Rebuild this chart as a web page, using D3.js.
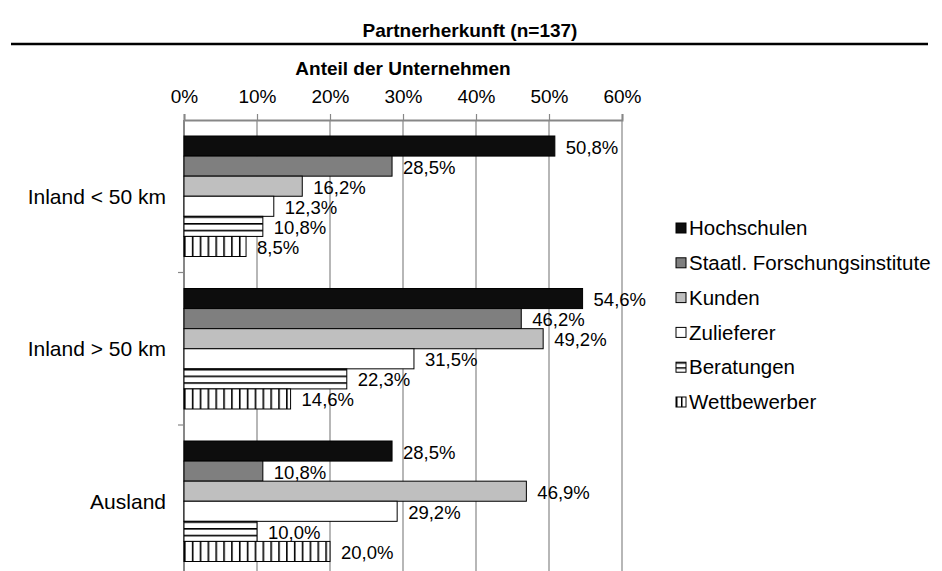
<!DOCTYPE html>
<html>
<head>
<meta charset="utf-8">
<script src="https://cdn.jsdelivr.net/npm/d3@7"></script>
<style>
	body { margin: 0; background: #fff; }
	svg { display: block; font-family: 'Liberation Sans', Arial, sans-serif; }
</style>
</head>
<body>
<svg width="942" height="571"></svg>
<script>
(function(window) {

	// Partnerherkunft, Anteil der Unternehmen (n=137)
	var categories = ['Inland < 50 km', 'Inland > 50 km', 'Ausland'];
	var seriesNames = ['Hochschulen', 'Staatl. Forschungsinstitute', 'Kunden', 'Zulieferer', 'Beratungen', 'Wettbewerber'];
	var hochschulen = [0.508, 0.546, 0.285];
	var forschung = [0.285, 0.462, 0.108];
	var kunden = [0.162, 0.492, 0.469];
	var zulieferer = [0.123, 0.315, 0.292];
	var beratungen = [0.108, 0.223, 0.100];
	var wettbewerber = [0.085, 0.146, 0.200];
	var xTicks = [0, 0.1, 0.2, 0.3, 0.4, 0.5, 0.6];

	var seriesValues = [hochschulen, forschung, kunden, zulieferer, beratungen, wettbewerber];
	var fills = ['#0d0d0d', '#7f7f7f', '#bfbfbf', '#ffffff', 'url(#hstripe)', 'url(#vstripe)'];
	var keyFills = ['#0d0d0d', '#7f7f7f', '#bfbfbf', '#ffffff', 'url(#hstripe-key)', 'url(#vstripe-key)'];

	var svg = d3.select('svg');
	var gridColor = '#878787';

	var x = d3.scaleLinear().domain([0, 0.6]).range([184, 622]);
	var y0 = d3.scaleBand().domain(categories).range([120, 577.5]);
	var y1 = d3.scaleBand().domain(seriesNames).range([16, y0.bandwidth() - 16]);

	var fmt = function(v) { return d3.format('.1f')(v * 100).replace('.', ',') + '%'; };

	// patterns for the striped series
	var defs = svg.append('defs');
	function stripes(id, units, w, h, lineW, lineH, px) {
		var p = defs.append('pattern')
			.attr('id', id)
			.attr('patternUnits', units)
			.attr('width', w)
			.attr('height', h);
		if (px != null) p.attr('x', px);
		p.append('rect').attr('width', 2000).attr('height', 2000).attr('fill', '#fff');
		p.append('rect').attr('width', lineW).attr('height', lineH).attr('fill', '#000');
	}
	stripes('hstripe', 'objectBoundingBox', 1, 1 / 3, 2000, 1.6);
	stripes('vstripe', 'userSpaceOnUse', 7.85, 600, 1.6, 600, x(0));
	stripes('hstripe-key', 'objectBoundingBox', 1, 1 / 2, 2000, 1.5);
	stripes('vstripe-key', 'objectBoundingBox', 1 / 2, 1, 1.5, 2000);

	// title + rule
	svg.append('text')
		.attr('x', 470)
		.attr('y', 37)
		.attr('text-anchor', 'middle')
		.attr('font-weight', 'bold')
		.attr('font-size', 19)
		.text('Partnerherkunft (n=137)');

	svg.append('line')
		.attr('x1', 11).attr('x2', 928)
		.attr('y1', 44).attr('y2', 44)
		.attr('stroke', '#000')
		.attr('stroke-width', 2.7);

	svg.append('text')
		.attr('x', (x(0) + x(0.6)) / 2)
		.attr('y', 75)
		.attr('text-anchor', 'middle')
		.attr('font-weight', 'bold')
		.attr('font-size', 19)
		.text('Anteil der Unternehmen');

	// gridlines
	svg.append('g')
		.selectAll('line')
		.data(xTicks.slice(1))
		.enter().append('line')
			.attr('x1', function(d) { return x(d); })
			.attr('x2', function(d) { return x(d); })
			.attr('y1', y0.range()[0])
			.attr('y2', y0.range()[1])
			.attr('stroke', gridColor)
			.attr('stroke-width', 1.2);

	// top axis
	var xAxis = svg.append('g')
		.attr('transform', 'translate(0,' + y0.range()[0] + ')')
		.call(d3.axisTop(x)
			.tickValues(xTicks)
			.tickFormat(d3.format('.0%'))
			.tickSize(6)
			.tickPadding(11));
	xAxis.select('.domain').attr('stroke', gridColor).attr('stroke-width', 2);
	xAxis.selectAll('.tick line').attr('stroke', gridColor).attr('stroke-width', 1.2);
	xAxis.selectAll('.tick text')
		.attr('fill', '#000')
		.attr('font-size', 19)
		.attr('font-family', null);

	// left axis line and boundary ticks
	svg.append('line')
		.attr('x1', x(0)).attr('x2', x(0))
		.attr('y1', y0.range()[0]).attr('y2', y0.range()[1])
		.attr('stroke', gridColor)
		.attr('stroke-width', 2);

	svg.append('g')
		.selectAll('line')
		.data(categories.slice(1))
		.enter().append('line')
			.attr('x1', x(0) - 6).attr('x2', x(0))
			.attr('y1', function(d) { return y0(d); })
			.attr('y2', function(d) { return y0(d); })
			.attr('stroke', gridColor)
			.attr('stroke-width', 1.2);

	svg.append('g')
		.selectAll('text')
		.data(categories)
		.enter().append('text')
			.attr('x', 166)
			.attr('y', function(d) { return y0(d) + y0.bandwidth() / 2; })
			.attr('dy', '0.35em')
			.attr('text-anchor', 'end')
			.attr('font-size', 21)
			.text(function(d) { return d; });

	// bars
	var rows = [];
	categories.forEach(function(c, ci) {
		seriesNames.forEach(function(s, si) {
			rows.push({ cat: c, series: s, si: si, value: seriesValues[si][ci] });
		});
	});

	var barH = y1.bandwidth();
	var bar = svg.append('g')
		.selectAll('g')
		.data(rows)
		.enter().append('g')
			.attr('transform', function(d) { return 'translate(0,' + (y0(d.cat) + y1(d.series)) + ')'; });

	bar.append('rect')
		.attr('x', x(0))
		.attr('y', 0)
		.attr('width', function(d) { return x(d.value) - x(0); })
		.attr('height', barH)
		.attr('fill', function(d) { return fills[d.si]; })
		.attr('stroke', '#000')
		.attr('stroke-width', 1);

	bar.append('text')
		.attr('x', function(d) { return x(d.value) + 11; })
		.attr('y', barH / 2 + 1)
		.attr('dy', '0.35em')
		.attr('font-size', 18.5)
		.text(function(d) { return fmt(d.value); });

	// legend
	var key = svg.append('g')
		.selectAll('g')
		.data(seriesNames)
		.enter().append('g')
			.attr('transform', function(d, i) { return 'translate(676,' + (228 + i * 34.8) + ')'; });

	key.append('rect')
		.attr('x', 0)
		.attr('y', -5)
		.attr('width', 10)
		.attr('height', 10)
		.attr('fill', function(d, i) { return keyFills[i]; })
		.attr('stroke', '#000')
		.attr('stroke-width', 1);

	key.append('text')
		.attr('x', 13)
		.attr('dy', '0.35em')
		.attr('font-size', 20.5)
		.text(function(d) { return d; });

})(window)
</script>
</body>
</html>
